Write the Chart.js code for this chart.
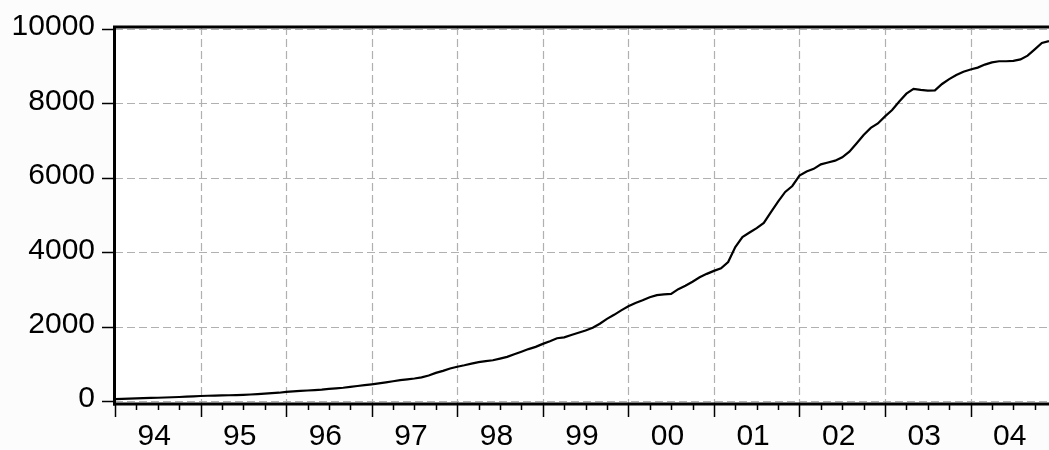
<!DOCTYPE html>
<html>
<head>
<meta charset="utf-8">
<script src="https://cdn.jsdelivr.net/npm/chart.js@4.4.1/dist/chart.umd.min.js"></script>
<style>
  html, body { margin: 0; padding: 0; background: #fcfcfc; }
  #wrap { position: relative; width: 1049px; height: 450px; }
</style>
</head>
<body>
<div id="wrap"><canvas id="chart"></canvas></div>
<script>
// Monthly series, January 1994 – December 2004, one array per year
const y1994 = [55, 62, 70, 76, 82, 88, 93, 99, 106, 113, 121, 130];
const y1995 = [140, 146, 151, 156, 160, 165, 172, 180, 190, 202, 215, 228];
const y1996 = [250, 262, 275, 288, 300, 312, 330, 345, 362, 385, 408, 430];
const y1997 = [454, 478, 505, 535, 565, 588, 610, 640, 690, 760, 815, 880];
const y1998 = [925, 965, 1010, 1050, 1075, 1100, 1145, 1190, 1260, 1330, 1400, 1460];
const y1999 = [1540, 1610, 1690, 1715, 1780, 1840, 1900, 1975, 2080, 2210, 2320, 2440];
const y2000 = [2550, 2640, 2710, 2790, 2850, 2870, 2880, 3010, 3100, 3210, 3330, 3420];
const y2001 = [3500, 3570, 3740, 4140, 4410, 4530, 4650, 4790, 5080, 5360, 5620, 5780];
const y2002 = [6060, 6170, 6240, 6360, 6410, 6460, 6550, 6700, 6920, 7150, 7340, 7460];
const y2003 = [7650, 7820, 8050, 8260, 8390, 8360, 8340, 8350, 8520, 8650, 8760, 8850];
const y2004 = [8910, 8960, 9040, 9100, 9130, 9130, 9140, 9180, 9280, 9450, 9620, 9670];

const yearLabels = ['94', '95', '96', '97', '98', '99', '00', '01', '02', '03', '04'];
const valueTicks = [0, 2000, 4000, 6000, 8000, 10000];

const series = [].concat(y1994, y1995, y1996, y1997, y1998, y1999,
                         y2000, y2001, y2002, y2003, y2004);
const points = series.map((v, i) => ({ x: i, y: v }));
const lastIndex = series.length - 1;

// Plot background, dashed grid, heavy frame and tick marks
const framePlugin = {
  id: 'frame',
  beforeDraw(chart) {
    const { ctx, chartArea: a } = chart;
    ctx.save();
    ctx.fillStyle = '#ffffff';
    ctx.fillRect(a.left, a.top, a.right - a.left, a.bottom - a.top);
    ctx.restore();
  },
  beforeDatasetsDraw(chart) {
    const { ctx, chartArea: a, scales } = chart;
    const xs = scales.x, ys = scales.y;
    ctx.save();
    ctx.strokeStyle = '#b0b0b0';
    ctx.lineWidth = 1.2;
    ctx.setLineDash([8, 4]);
    valueTicks.forEach(v => {
      const py = Math.round(ys.getPixelForValue(v)) + 0.5;
      ctx.beginPath();
      ctx.moveTo(a.left, py);
      ctx.lineTo(a.right, py);
      ctx.stroke();
    });
    for (let m = 12; m <= lastIndex; m += 12) {
      const px = Math.round(xs.getPixelForValue(m)) + 0.5;
      ctx.beginPath();
      ctx.moveTo(px, a.top);
      ctx.lineTo(px, a.bottom);
      ctx.stroke();
    }
    ctx.restore();
  },
  afterDatasetsDraw(chart) {
    const { ctx, chartArea: a, scales } = chart;
    const xs = scales.x, ys = scales.y;
    ctx.save();
    ctx.setLineDash([]);
    ctx.strokeStyle = '#000000';

    // value-axis tick marks
    ctx.lineWidth = 1.5;
    valueTicks.forEach(v => {
      const py = Math.round(ys.getPixelForValue(v)) + 0.5;
      ctx.beginPath();
      ctx.moveTo(a.left - 13, py);
      ctx.lineTo(a.left, py);
      ctx.stroke();
    });

    // quarterly tick marks, longer at each year start
    for (let m = 0; m <= lastIndex; m += 3) {
      const px = Math.round(xs.getPixelForValue(m)) + 0.5;
      const len = (m % 12 === 0) ? 13 : 6;
      ctx.beginPath();
      ctx.moveTo(px, a.bottom);
      ctx.lineTo(px, a.bottom + len);
      ctx.stroke();
    }

    // frame
    ctx.lineWidth = 3;
    ctx.beginPath();
    ctx.moveTo(a.left - 0.5, a.bottom + 1.5);
    ctx.lineTo(a.left - 0.5, a.top);
    ctx.lineTo(a.right + 2, a.top);
    ctx.stroke();
    ctx.beginPath();
    ctx.moveTo(a.left - 2, a.bottom);
    ctx.lineTo(a.right + 2, a.bottom);
    ctx.stroke();
    ctx.restore();
  }
};

new Chart(document.getElementById('chart'), {
  type: 'line',
  data: {
    datasets: [{
      data: points,
      borderColor: '#000000',
      borderWidth: 2.2,
      pointRadius: 0,
      tension: 0,
      fill: false
    }]
  },
  options: {
    responsive: true,
    maintainAspectRatio: false,
    devicePixelRatio: 1,
    animation: false,
    layout: { padding: { top: 27, right: 0, left: 0, bottom: 0 } },
    plugins: {
      legend: { display: false },
      tooltip: { enabled: false }
    },
    scales: {
      x: {
        type: 'linear',
        min: 0,
        max: lastIndex,
        grid: { display: false, drawTicks: false },
        border: { display: false },
        afterBuildTicks(scale) {
          scale.ticks = yearLabels.map((_, i) => ({ value: 5.5 + 12 * i }));
        },
        afterFit(scale) {
          scale.height = 46;
          scale.paddingLeft = 0;
          scale.paddingRight = 0;
        },
        ticks: {
          autoSkip: false,
          maxRotation: 0,
          minRotation: 0,
          padding: 15,
          color: '#000000',
          font: { family: "'Liberation Sans', Arial, sans-serif", size: 30 },
          callback(v) {
            return yearLabels[Math.round((v - 5.5) / 12)];
          }
        }
      },
      y: {
        type: 'linear',
        min: -75,
        max: 10050,
        grid: { display: false, drawTicks: false },
        border: { display: false },
        afterBuildTicks(scale) {
          scale.ticks = valueTicks.map(v => ({ value: v }));
        },
        afterFit(scale) {
          scale.width = 115;
          scale.paddingTop = 0;
          scale.paddingBottom = 0;
        },
        ticks: {
          padding: 20,
          labelOffset: -2,
          color: '#000000',
          font: { family: "'Liberation Sans', Arial, sans-serif", size: 30 },
          callback(v) { return String(v); }
        }
      }
    }
  },
  plugins: [framePlugin]
});
</script>
</body>
</html>
